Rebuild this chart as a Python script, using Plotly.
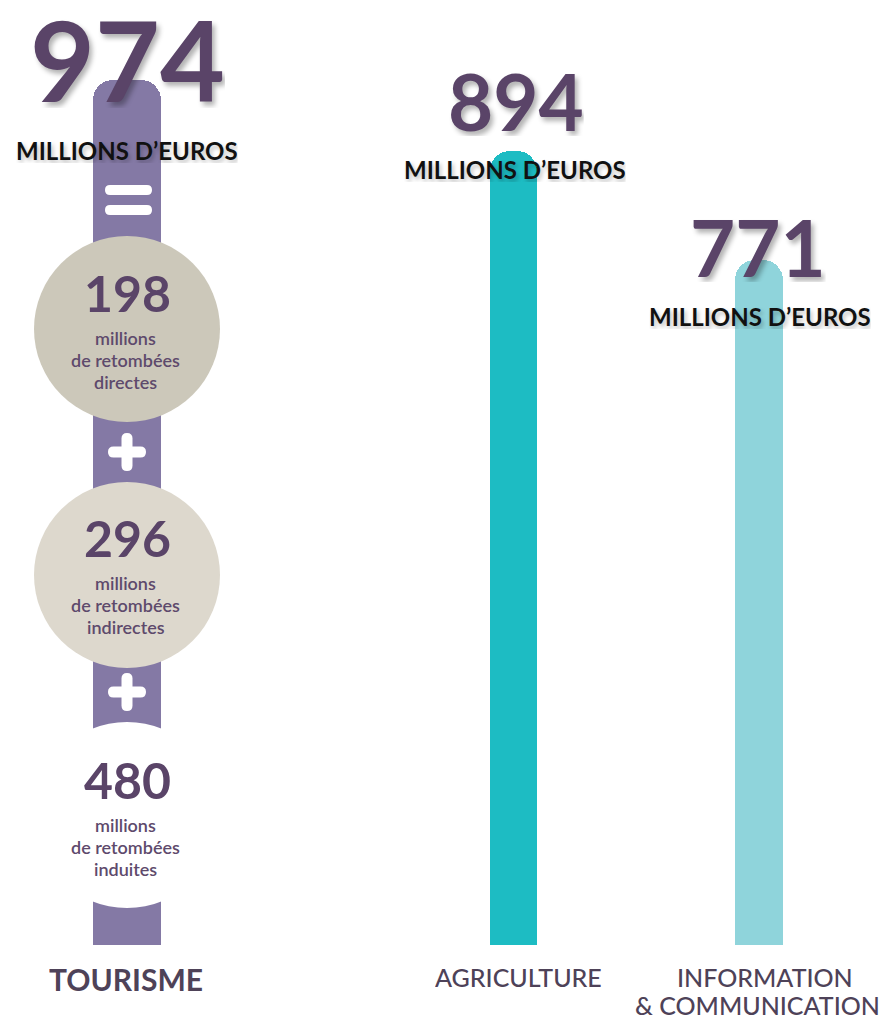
import plotly.graph_objects as go

# ---------------- data ----------------
sectors = ["TOURISME", "AGRICULTURE", "INFORMATION", "& COMMUNICATION"]
values = [974, 894, 771]
unit_label = "MILLIONS D’EUROS"
tourism_parts = [198, 296, 480]
part_kinds = ["directes", "indirectes", "induites"]

# ---------------- layout constants (pixels) ----------------
W, H = 894, 1019
PLOT_H = 945                      # plot area bottom at 945 px
Y_MAX = 1064
x_centers = [127, 513, 759]
bar_widths = [68, 47, 48]
bar_colors = ["#8479a5", "#1dbcc3", "#8fd4db"]
NUM_COLOR = "#5a4468"
TXT_COLOR = "#5e4a6c"
LAB_COLOR = "#4e4258"
FONT = "Lato"


def px(x):
    return x / W


def py(y):
    return (PLOT_H - y) / PLOT_H


fig = go.Figure()
fig.add_trace(go.Bar(
    x=x_centers, y=values, width=bar_widths,
    marker=dict(color=bar_colors, cornerradius=20, line=dict(width=0)),
    hoverinfo="skip", showlegend=False,
))

shapes = []


def circle(cx, cy, r, color):
    shapes.append(dict(type="circle", xref="paper", yref="paper",
                       x0=px(cx - r), x1=px(cx + r), y0=py(cy + r), y1=py(cy - r),
                       fillcolor=color, line=dict(width=0), layer="above"))


def hbar(x1, x2, yc, h):
    return [
        ("M", [(x1 + h, yc - h)]), ("L", [(x2 - h, yc - h)]),
        ("Q", [(x2, yc - h), (x2, yc)]), ("Q", [(x2, yc + h), (x2 - h, yc + h)]),
        ("L", [(x1 + h, yc + h)]), ("Q", [(x1, yc + h), (x1, yc)]),
        ("Q", [(x1, yc - h), (x1 + h, yc - h)]),
    ]


def vbar(xc, y1, y2, h):
    return [
        ("M", [(xc - h, y1 + h)]), ("Q", [(xc - h, y1), (xc, y1)]),
        ("Q", [(xc + h, y1), (xc + h, y1 + h)]), ("L", [(xc + h, y2 - h)]),
        ("Q", [(xc + h, y2), (xc, y2)]), ("Q", [(xc - h, y2), (xc - h, y2 - h)]),
    ]


def add_path(pts, color="white"):
    s = ""
    for cmd, ps in pts:
        s += cmd + " ".join(f"{px(a):.5f},{py(b):.5f}" for a, b in ps) + " "
    s += "Z"
    shapes.append(dict(type="path", xref="paper", yref="paper", path=s,
                       fillcolor=color, line=dict(width=0), layer="above"))


# circles of the tourism breakdown
circle(127, 329, 93, "#ccc8ba")
circle(127, 575, 93, "#ddd8cd")
circle(127, 815, 93, "white")

# "=" sign
add_path(hbar(105, 152, 190, 5))
add_path(hbar(105, 152, 210, 5))
# "+" signs
for cy in (452, 692):
    add_path(hbar(108, 146, cy, 5.5))
    add_path(vbar(127, cy - 19, cy + 19, 5.5))

fig.update_layout(shapes=shapes)

ann = []


def text(x, y, t, size, color, weight=400, shadow=None, h=None):
    f = dict(family=FONT, size=size, color=color, weight=weight)
    if shadow:
        f["shadow"] = shadow
    a = dict(x=px(x), y=py(y), xref="paper", yref="paper", text=t,
             showarrow=False, xanchor="center", yanchor="middle", font=f)
    if h:
        a["height"] = h
        a["valign"] = "middle"
    ann.append(a)


big_shadow = "3px 4px 5px rgba(0,0,0,0.30)"
small_shadow = "2px 3px 4px rgba(0,0,0,0.25)"

# values over the bars
value_pos = [(127, 58, 112, 100), (516, 101, 78, 70), (758, 247, 78, 70)]
unit_pos = [(127, 150, 24), (515, 169, 24), (760, 316, 24)]
for v, (x, y, s, h) in zip(values, value_pos):
    text(x, y, str(v), s, NUM_COLOR, 700, big_shadow, h)
for (x, y, s) in unit_pos:
    text(x, y, unit_label, s, "#111111", 700, small_shadow, 26)

# tourism breakdown
part_y = [293, 538, 780]
for v, kind, y0 in zip(tourism_parts, part_kinds, part_y):
    text(127, y0, str(v), 50, NUM_COLOR, 700, None, 50)
    text(126, y0 + 45, "millions", 18, TXT_COLOR, 600, None, 20)
    text(126, y0 + 67, "de retombées", 18, TXT_COLOR, 600, None, 20)
    text(126, y0 + 89, kind, 18, TXT_COLOR, 600, None, 20)

# category labels
text(126, 979, sectors[0], 30, LAB_COLOR, 700, None, 32)
text(518, 977, sectors[1], 25, LAB_COLOR, 500, None, 26)
text(765, 977, sectors[2], 25, LAB_COLOR, 500, None, 26)
text(757, 1005, sectors[3], 25, LAB_COLOR, 500, None, 26)

fig.update_layout(
    annotations=ann,
    width=W, height=H,
    margin=dict(l=0, r=0, t=0, b=H - PLOT_H, pad=0),
    paper_bgcolor="white", plot_bgcolor="white",
    xaxis=dict(range=[0, W], visible=False, fixedrange=True),
    yaxis=dict(range=[0, Y_MAX], visible=False, fixedrange=True),
    bargap=0,
)

fig.write_html("out.html", config={"displayModeBar": False})
